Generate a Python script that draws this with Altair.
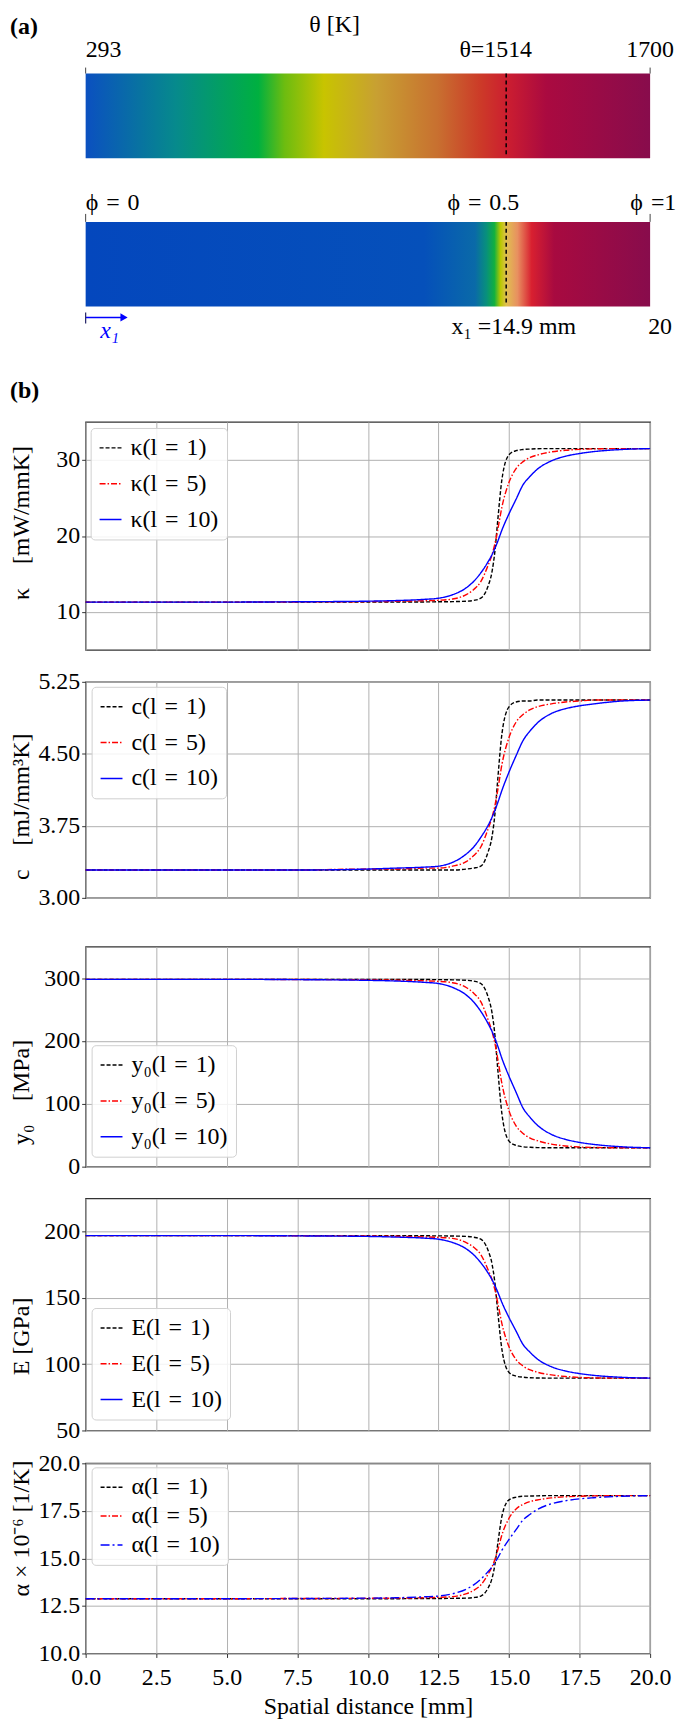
import altair as alt
import pandas as pd

FONT = "Liberation Serif"
FS = 24
W = 567

# ---------------- data ----------------
X_MM = [0, 2.5, 5, 7.5, 10, 11, 12, 12.5, 13, 13.5, 13.75, 14, 14.25, 14.4, 14.5,
        14.6, 14.75, 15, 15.25, 15.5, 15.75, 16, 16.5, 17, 17.5, 18, 19, 20]

KAPPA_L1 = [11.3, 11.3, 11.3, 11.3, 11.3, 11.3, 11.32, 11.34, 11.36, 11.42, 11.52, 11.81, 13.32, 15.34,
            17.97, 22.01, 27.46, 30.69, 31.22, 31.38, 31.44, 31.48, 31.5, 31.5, 31.5, 31.5, 31.5, 31.5]
KAPPA_L5 = [11.3, 11.3, 11.3, 11.32, 11.36, 11.4, 11.48, 11.54, 11.7, 12.31, 12.96, 13.99, 16.05, 17.56,
            18.98, 20.79, 23.82, 27.06, 28.87, 29.78, 30.33, 30.65, 31.06, 31.28, 31.4, 31.46, 31.5, 31.5]
KAPPA_L10 = [11.3, 11.3, 11.3, 11.34, 11.42, 11.5, 11.66, 11.81, 12.27, 13.22, 14.03, 15.14, 16.55, 17.56,
             18.37, 19.28, 20.79, 22.92, 24.83, 26.75, 27.86, 28.77, 29.88, 30.49, 30.85, 31.1, 31.38, 31.5]

C_L1 = [3.29, 3.29, 3.29, 3.29, 3.29, 3.29, 3.29, 3.29, 3.29, 3.3, 3.31, 3.33, 3.47, 3.64,
        3.87, 4.23, 4.71, 4.99, 5.04, 5.05, 5.05, 5.06, 5.06, 5.06, 5.06, 5.06, 5.06, 5.06]
C_L5 = [3.29, 3.29, 3.29, 3.29, 3.3, 3.3, 3.31, 3.31, 3.33, 3.38, 3.44, 3.53, 3.71, 3.84,
        3.96, 4.12, 4.39, 4.67, 4.83, 4.91, 4.96, 4.99, 5.02, 5.04, 5.05, 5.06, 5.06, 5.06]
C_L10 = [3.29, 3.29, 3.29, 3.29, 3.3, 3.31, 3.32, 3.33, 3.37, 3.46, 3.53, 3.63, 3.75, 3.84,
         3.91, 3.99, 4.12, 4.31, 4.48, 4.64, 4.74, 4.82, 4.92, 4.97, 5.0, 5.02, 5.05, 5.06]

Y0_L1 = [298, 298, 298, 298, 298, 298, 297.7, 297.5, 297.2, 296.4, 295.1, 291.3, 271.2, 244.4,
         209.6, 156.0, 83.6, 40.7, 33.8, 31.6, 30.8, 30.3, 30, 30, 30, 30, 30, 30]
Y0_L5 = [298, 298, 298, 297.7, 297.2, 296.7, 295.6, 294.8, 292.6, 284.6, 276.0, 262.4, 235.0, 214.9,
         196.2, 172.0, 131.8, 89.0, 64.8, 52.8, 45.5, 41.3, 35.9, 32.9, 31.3, 30.5, 30, 30]
Y0_L10 = [298, 298, 298, 297.5, 296.4, 295.3, 293.2, 291.3, 285.1, 272.5, 261.8, 247.1, 228.3, 214.9,
          204.2, 192.1, 172.0, 143.9, 118.4, 93.0, 78.2, 66.2, 51.4, 43.4, 38.6, 35.4, 31.6, 30]

E_L1 = [197, 197, 197, 197, 197, 197, 196.9, 196.8, 196.7, 196.4, 195.8, 194.3, 186.3, 175.5,
        161.5, 140.0, 111.0, 93.8, 91.0, 90.2, 89.8, 89.6, 89.5, 89.5, 89.5, 89.5, 89.5, 89.5]
E_L5 = [197, 197, 197, 196.9, 196.7, 196.5, 196.0, 195.7, 194.9, 191.6, 188.2, 182.7, 171.7, 163.7,
        156.2, 146.5, 130.4, 113.2, 103.5, 98.6, 95.7, 94.0, 91.9, 90.7, 90.0, 89.7, 89.5, 89.5]
E_L10 = [197, 197, 197, 196.8, 196.4, 195.9, 195.1, 194.3, 191.8, 186.8, 182.5, 176.6, 169.1, 163.7,
         159.4, 154.5, 146.5, 135.2, 125.0, 114.8, 108.9, 104.0, 98.1, 94.9, 92.9, 91.6, 90.1, 89.5]

ALPHA_L1 = [12.88, 12.88, 12.88, 12.88, 12.88, 12.88, 12.89, 12.89, 12.9, 12.91, 12.94, 13.02, 13.42, 13.96,
            14.67, 15.75, 17.22, 18.08, 18.22, 18.27, 18.28, 18.29, 18.3, 18.3, 18.3, 18.3, 18.3, 18.3]
ALPHA_L5 = [12.88, 12.88, 12.88, 12.89, 12.9, 12.91, 12.93, 12.95, 12.99, 13.15, 13.32, 13.6, 14.15, 14.56,
            14.94, 15.43, 16.24, 17.11, 17.6, 17.84, 17.99, 18.07, 18.18, 18.24, 18.27, 18.29, 18.3, 18.3]
ALPHA_L10 = [12.88, 12.88, 12.88, 12.89, 12.91, 12.93, 12.98, 13.02, 13.14, 13.39, 13.61, 13.91, 14.29, 14.56,
             14.78, 15.02, 15.43, 16.0, 16.51, 17.03, 17.32, 17.57, 17.87, 18.03, 18.13, 18.19, 18.27, 18.3]

X_TICKS = [0, 2.5, 5, 7.5, 10, 12.5, 15, 17.5, 20]
KAPPA_TICKS = [10, 20, 30]
C_TICKS = [3.0, 3.75, 4.5, 5.25]
Y0_TICKS = [0, 100, 200, 300]
E_TICKS = [50, 100, 150, 200]
ALPHA_TICKS = [10, 12.5, 15, 17.5, 20]

L_VALUES = ["1", "5", "10"]

# panel (a) annotation content
BAR_X = [0, 20]
INTERFACE_X = 14.9
THETA_LABELS = ["293", "θ=1514", "1700"]
THETA_LABEL_X = [0, 14.53, 20.0]
PHI_LABELS = ["ϕ\u2004=\u20040", "ϕ\u2004=\u20040.5", "ϕ\u2004=1"]
PHI_LABEL_X = [0, 14.09, 19.3]
ARROW_X = [0, 1.3]
ARROW_HEAD_X = 1.36
LENGTH_LABELS = ["x₁ =14.9 mm", "20"]
LENGTH_LABEL_X = [15.17, 19.93]

# ---------------- styles ----------------
XS = alt.Scale(domain=[0, 20], nice=False, zero=False)
COLORS = ["#000000", "#ff0000", "#0000ff"]
DASH_A = [[4, 2], [6, 2, 1.5, 2], [1, 0]]
DASH_B = [[4, 2], [6, 2, 1.5, 2], [9, 3, 2, 3]]

TOP_STOPS = [(0.0, "#0b50c0"), (0.16, "#068a8c"), (0.306, "#00b040"), (0.352, "#6cbc10"),
             (0.422, "#c8c400"), (0.515, "#c8a032"), (0.623, "#c87030"), (0.70, "#cc3a28"),
             (0.746, "#cc1e30"), (0.816, "#aa0a40"), (1.0, "#880c4c")]
BOT_STOPS = [(0.0, "#0447bd"), (0.6, "#0550ba"), (0.69, "#0a6aa8"), (0.71, "#08907c"),
             (0.724, "#10b040"), (0.735, "#b8c800"), (0.745, "#e0c050"), (0.765, "#e89060"),
             (0.79, "#d82030"), (0.83, "#a80a40"), (1.0, "#880c4c")]


def grad(stops):
    return alt.Gradient(gradient="linear", x1=0, x2=1, y1=0, y2=0,
                        stops=[alt.GradientStop(offset=o, color=c) for o, c in stops])


def one(v):
    return pd.DataFrame({"x": [v]})


def xenc(field="x"):
    return alt.X(f"{field}:Q", scale=XS, axis=None)


def label(text, xv, y, align="center", color="#000000", style="normal"):
    return alt.Chart(one(xv)).mark_text(
        text=text, align=align, baseline="middle", font=FONT, fontSize=FS,
        color=color, fontStyle=style).encode(x=xenc(), y=alt.value(y))


def spacer(h):
    return alt.Chart(one(0)).mark_point(opacity=0).encode(
        x=alt.value(0), y=alt.value(0)).properties(
        width=W, height=h, view=alt.ViewBackground(stroke="transparent"))


# ---------------- panel (a) ----------------
bar_df = pd.DataFrame({"x0": [BAR_X[0]], "x1": [BAR_X[1]]})
layers_a = [
    alt.Chart(one(0)).mark_rule(strokeOpacity=0, strokeWidth=1).encode(
        x=alt.value(-76.5), y=alt.value(-60.5), y2=alt.value(0)),
    alt.Chart(bar_df).mark_rect(fill=grad(TOP_STOPS)).encode(
        x=alt.X("x0:Q", scale=XS, axis=None), x2="x1:Q", y=alt.value(0), y2=alt.value(85)),
    alt.Chart(bar_df).mark_rect(fill=grad(BOT_STOPS)).encode(
        x=alt.X("x0:Q", scale=XS, axis=None), x2="x1:Q", y=alt.value(149), y2=alt.value(234)),
    alt.Chart(pd.DataFrame({"x": BAR_X})).mark_rule(color="#444444", strokeWidth=1).encode(
        x=xenc(), y=alt.value(-6), y2=alt.value(0)),
    alt.Chart(pd.DataFrame({"x": BAR_X})).mark_rule(color="#444444", strokeWidth=1).encode(
        x=xenc(), y=alt.value(141), y2=alt.value(149)),
    alt.Chart(one(INTERFACE_X)).mark_rule(color="#000000", strokeDash=[4, 3], strokeWidth=1.5).encode(
        x=xenc(), y=alt.value(0), y2=alt.value(83)),
    alt.Chart(one(INTERFACE_X)).mark_rule(color="#000000", strokeDash=[4, 3], strokeWidth=1.5).encode(
        x=xenc(), y=alt.value(149), y2=alt.value(232)),
    alt.Chart(pd.DataFrame({"x0": [ARROW_X[0]], "x1": [ARROW_X[1]]})).mark_rule(
        color="#0000ff", strokeWidth=1.6).encode(
        x=alt.X("x0:Q", scale=XS, axis=None), x2="x1:Q", y=alt.value(245)),
    alt.Chart(one(ARROW_HEAD_X)).mark_point(shape="triangle-right", filled=True, size=70,
                                           color="#0000ff", opacity=1).encode(
        x=xenc(), y=alt.value(245)),
    alt.Chart(one(0)).mark_rule(color="#222266", strokeWidth=1.2).encode(
        x=xenc(), y=alt.value(240), y2=alt.value(251)),
    alt.Chart(one(0)).mark_text(text="(a)", align="left", baseline="middle", font=FONT,
                                fontSize=FS, fontWeight="bold").encode(
        x=alt.value(-76), y=alt.value(-47)),
    label("θ [K]", 8.82, -49),
    label(THETA_LABELS[0], THETA_LABEL_X[0], -24, align="left"),
    label(THETA_LABELS[1], THETA_LABEL_X[1], -24),
    label(THETA_LABELS[2], THETA_LABEL_X[2], -24),
    label(PHI_LABELS[0], PHI_LABEL_X[0], 130, align="left"),
    label(PHI_LABELS[1], PHI_LABEL_X[1], 130),
    label(PHI_LABELS[2], PHI_LABEL_X[2], 130, align="left"),
    label("x₁", 0.85, 259, color="#0000ff", style="italic"),
    label(LENGTH_LABELS[0], LENGTH_LABEL_X[0], 255),
    label(LENGTH_LABELS[1], LENGTH_LABEL_X[1], 255, align="left"),
]
panel_a = alt.layer(*layers_a).properties(
    width=W, height=234, view=alt.ViewBackground(stroke="transparent"))


# ---------------- panel (b) ----------------
def line_panel(sym, series, dashes, ydom, yticks, yfmt, ytitle, title_y,
               leg_x, leg_y, row_pad, bottom=False, tail=""):
    labels = [f"{sym}(l\u2004=\u2004{l}){tail}" for l in L_VALUES]
    rows = []
    for lab, vals in zip(labels, series):
        for xv, yv in zip(X_MM, vals):
            rows.append({"x": xv, "v": yv, "s": lab})
    df = pd.DataFrame(rows)
    leg = alt.Legend(title=None, orient="none", legendX=leg_x, legendY=leg_y,
                     symbolType="stroke", symbolSize=484, symbolStrokeWidth=1.5,
                     labelFont=FONT, labelFontSize=FS, labelOffset=8, labelLimit=0,
                     padding=8, rowPadding=row_pad, fillColor="rgba(255,255,255,0.85)",
                     strokeColor="#d0d0d0", cornerRadius=4)
    if bottom:
        xaxis = alt.Axis(values=X_TICKS, format=".1f", title="Spatial distance [mm]",
                         ticks=True, tickSize=4, labelPadding=8, titlePadding=5, grid=True)
    else:
        xaxis = alt.Axis(values=X_TICKS, labels=False, ticks=False, title=None, grid=True)
    yaxis = alt.Axis(values=yticks, format=yfmt, title=ytitle, titleX=-64, titleY=title_y,
                     titleAngle=270, titleAlign="center", titleBaseline="middle",
                     tickSize=4, labelPadding=2, grid=True)
    return alt.Chart(df).mark_line(strokeWidth=1.4, interpolate="monotone").encode(
        x=alt.X("x:Q", scale=XS, axis=xaxis),
        y=alt.Y("v:Q", scale=alt.Scale(domain=ydom, nice=False, zero=False), axis=yaxis),
        color=alt.Color("s:N", scale=alt.Scale(domain=labels, range=COLORS), legend=leg),
        strokeDash=alt.StrokeDash("s:N", scale=alt.Scale(domain=labels, range=dashes), legend=leg),
    )


WIDE = "\u2002\u2005"
kappa_lines = line_panel("κ", [KAPPA_L1, KAPPA_L5, KAPPA_L10], DASH_A, [5, 35], KAPPA_TICKS,
                         "d", "κ\u2003[mW/mmK]", 101, 5, 6, 12, tail=WIDE)
b_text = alt.Chart(one(0)).mark_text(text="(b)", align="left", baseline="middle", font=FONT,
                                     fontSize=FS, fontWeight="bold").encode(
    x=alt.value(-76), y=alt.value(-31))
kappa = alt.layer(kappa_lines, b_text).properties(width=W, height=229)

cpanel = line_panel("c", [C_L1, C_L5, C_L10], DASH_A, [3.0, 5.25], C_TICKS, ".2f",
                    "c\u2003[mJ/mm³K]", 125, 6, 5, 12, tail=WIDE).properties(width=W, height=217)
y0panel = line_panel("y₀", [Y0_L1, Y0_L5, Y0_L10], DASH_A, [0, 350], Y0_TICKS, "d",
                     "y₀\u2003[MPa]", 146, 6, 99, 12).properties(width=W, height=221)
epanel = line_panel("E", [E_L1, E_L5, E_L10], DASH_A, [50, 225], E_TICKS, "d",
                    "E [GPa]", 138, 6, 110, 12).properties(width=W, height=233)
apanel = line_panel("α", [ALPHA_L1, ALPHA_L5, ALPHA_L10], DASH_B, [10, 20], ALPHA_TICKS, ".1f",
                    "α × 10⁻⁶ [1/K]", 65, 6, 4, 5, bottom=True).properties(width=W, height=191)

# uniform spacing of 8 px; spacers give the reference's uneven gaps (116, 32, 49, 32, 33)
chart = alt.vconcat(
    panel_a, spacer(100), kappa, spacer(16), cpanel, spacer(33), y0panel,
    spacer(16), epanel, spacer(17), apanel,
    spacing=8, bounds="flush"
).resolve_scale(color="independent", strokeDash="independent")

chart = chart.properties(
    padding={"left": 0, "top": 0, "right": 0, "bottom": 0}
).configure_axis(
    labelFont=FONT, labelFontSize=FS, titleFont=FONT, titleFontSize=FS, titleFontWeight="normal",
    labelColor="#000000", titleColor="#000000", gridColor="#b0b0b0", gridWidth=1, gridOpacity=1,
    tickColor="#333333", domain=False, labelFlush=False, labelOverlap=False
).configure_view(stroke="#333333", strokeWidth=1.3)

chart.save("out.html", embed_options={"renderer": "svg", "actions": False})
